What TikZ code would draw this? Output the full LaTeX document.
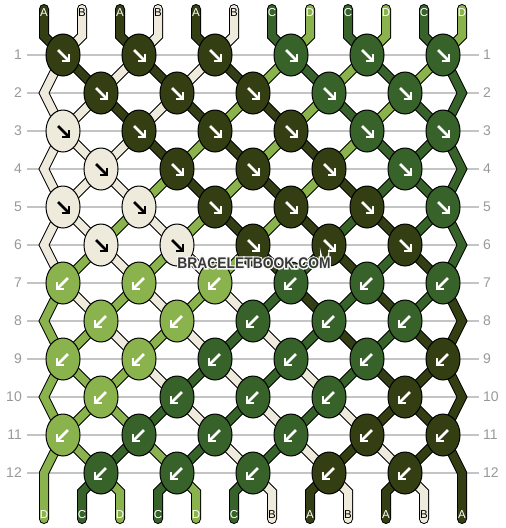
\documentclass[tikz,border=0pt]{standalone}
\usepackage{fontspec}
\setmainfont{Liberation Sans}
\newfontfamily\wmfont{Liberation Sans}[FakeStretch=0.9]
\usetikzlibrary{shapes.geometric}
\definecolor{colA}{HTML}{333F12}
\definecolor{colB}{HTML}{EEEADC}
\definecolor{colC}{HTML}{37622A}
\definecolor{colD}{HTML}{8BB34D}
\colorlet{arrA}{white}\colorlet{arrB}{black}\colorlet{arrC}{white}\colorlet{arrD}{white}
\definecolor{gridgray}{HTML}{C4C4C4}
\definecolor{numgray}{HTML}{999999}
\definecolor{wmgray}{HTML}{383838}
\pgfdeclarelayer{gridlayer}\pgfdeclarelayer{strandlayer}
\pgfsetlayers{gridlayer,strandlayer,main}

\newcommand\setslot[3]{%
  \ifodd#2\relax
    \pgfmathtruncatemacro\tmpj{#3/2}%
    \edef#1{K#2-\tmpj.center}%
  \else
    \ifnum#3=0\relax \edef#1{EL#2}%
    \else\ifnum#3=11\relax \edef#1{ER#2}%
    \else \pgfmathtruncatemacro\tmpj{(#3-1)/2}\edef#1{K#2-\tmpj.center}%
    \fi\fi
  \fi}

\newcommand\drawstrands[1]{%
  \foreach \c [count=\p from 0] in {A,B,A,B,A,B,C,D,C,D,C,D} {
    \setslot\sa{1}{\p}
    \draw[#1=\c] (T\p) -- (TB\p) -- (\sa);
  }
  \foreach \r/\seq in {1/{B,A,B,A,B,A,D,C,D,C,D,C}, 2/{B,B,A,B,A,D,A,D,C,D,C,C}, 3/{B,B,B,A,D,A,D,A,D,C,C,C}, 4/{B,B,B,D,A,D,A,D,A,C,C,C}, 5/{B,B,D,B,D,A,D,A,C,A,C,C}, 6/{B,D,B,D,B,D,A,C,A,C,A,C}, 7/{D,B,D,B,D,B,C,A,C,A,C,A}, 8/{D,D,B,D,B,C,B,C,A,C,A,A}, 9/{D,D,D,B,C,B,C,B,C,A,A,A}, 10/{D,D,D,C,B,C,B,C,B,A,A,A}, 11/{D,D,C,D,C,B,C,B,A,B,A,A}} {
    \pgfmathtruncatemacro\rn{\r+1}
    \pgfmathtruncatemacro\rnn{\r+2}
    \foreach \c [count=\p from 0] in \seq {
      \setslot\sa{\r}{\p}\setslot\sb{\rn}{\p}
      \ifnum\p=0 \def\isedge{1}\else\ifnum\p=11 \def\isedge{1}\else\def\isedge{0}\fi\fi
      \ifnum\isedge=1
        \ifodd\r
          \ifnum\r<11 \setslot\sc{\rnn}{\p}\else\edef\sc{B\p}\fi
          \draw[#1=\c] (\sa) -- (\sb) -- (\sc);
        \fi
      \else
        \draw[#1=\c] (\sa) -- (\sb);
      \fi
    }
  }
  \foreach \c [count=\p from 0] in {D,C,D,C,D,C,B,A,B,A,B,A} {
    \ifnum\p>0 \ifnum\p<11
      \setslot\sa{12}{\p}
      \draw[#1=\c] (\sa) -- (BB\p) -- (B\p);
    \fi\fi
  }%
}

\tikzset{
  knot/.style={ellipse, draw=black, line width=1pt, fill=#1, minimum width=34pt, minimum height=42pt, inner sep=0pt, outer sep=0pt},
  arrowline/.style={draw=#1, line width=2.6pt, line join=miter, line cap=butt},
  strand0/.style={draw=black, line width=10pt, line cap=round, line join=miter},
  strand1/.style={draw=col#1, line width=8pt, line cap=round, line join=miter},
  rowline/.style={draw=gridgray, line width=1.2pt},
  rownum/.style={text=numgray, font=\fontsize{14}{14}\selectfont, inner sep=0pt},
  endlabel/.style={text=arr#1, font=\fontsize{11.5}{11.5}\selectfont, inner sep=0pt},
  wm/.style={font=\wmfont\bfseries\fontsize{15.4}{15.4}\selectfont, inner sep=0pt},
}
\newcommand\haloed[1]{\rlap{\special{pdf:literal direct 1 Tr 2.6 w 0.97 0.97 0.97 RG}#1\special{pdf:literal direct 0 Tr}}#1}

\begin{document}
\begin{tikzpicture}[x=1pt,y=-1pt]
\useasboundingbox (0,0) rectangle (506,528);
\begin{pgfonlayer}{gridlayer}
  \fill[white] (0,0) rectangle (506,528);
\end{pgfonlayer}

% knots
\foreach \r/\ks in {1/{A,A,A,C,C,C},2/{A,A,A,C,C},3/{B,A,A,A,C,C},4/{B,A,A,A,C},5/{B,B,A,A,A,C},6/{B,B,A,A,A},7/{D,D,D,C,C,C},8/{D,D,C,C,C},9/{D,D,C,C,C,A},10/{D,C,C,C,A},11/{D,C,C,C,A,A},12/{C,C,C,A,A}} {
  \pgfmathsetmacro\yy{55+38*(\r-1)}
  \ifodd\r \def\xo{63}\else\def\xo{101}\fi
  \foreach \c [count=\j from 0] in \ks {
    \pgfmathsetmacro\xx{\xo+76*\j}
    \node[knot=col\c] (K\r-\j) at (\xx,\yy) {};
    \ifnum\r<7
      \draw[arrowline=arr\c] (K\r-\j.center) ++(-5,-5) -- ++(10,10);
      \draw[arrowline=arr\c] (K\r-\j.center) ++(6,-1) -- ++(0,7) -- ++(-7,0);
    \else
      \draw[arrowline=arr\c] (K\r-\j.center) ++(5,-5) -- ++(-10,10);
      \draw[arrowline=arr\c] (K\r-\j.center) ++(-6,-1) -- ++(0,7) -- ++(7,0);
    \fi
  }
}

% row numbers and row lines
\foreach \r in {1,...,12} {
  \pgfmathsetmacro\yy{55+38*(\r-1)}
  \node[rownum, anchor=east] (numL\r) at (22,\yy) {\r};
  \node[rownum, anchor=west] (numR\r) at (483,\yy) {\r};
  \begin{pgfonlayer}{gridlayer}
    \draw[rowline] ([xshift=5pt]numL\r.east) -- ([xshift=-4pt]numR\r.west);
  \end{pgfonlayer}
}

% edge turning points
\foreach \r in {2,4,...,12} {
  \pgfmathsetmacro\yy{55+38*(\r-1)}
  \coordinate (EL\r) at (44,\yy);
  \coordinate (ER\r) at (462,\yy);
}

% string ends and labels
\foreach \c [count=\p from 0] in {A,B,A,B,A,B,C,D,C,D,C,D} {
  \pgfmathsetmacro\xx{44+38*\p}
  \coordinate (T\p) at (\xx,9);
  \coordinate (TB\p) at (\xx,36);
  \node[endlabel=\c] (TL\p) at (\xx,12.5) {\c};
}
\foreach \c [count=\p from 0] in {D,C,D,C,D,C,B,A,B,A,B,A} {
  \pgfmathsetmacro\xx{44+38*\p}
  \coordinate (BB\p) at (\xx,492);
  \coordinate (B\p) at (\xx,519);
  \node[endlabel=\c] (BL\p) at (\xx,515) {\c};
}

% strings
\begin{pgfonlayer}{strandlayer}
  \drawstrands{strand0}
  \drawstrands{strand1}
\end{pgfonlayer}

% watermark
\node[wm, text=wmgray] (wm) at (254,263) {\haloed{BRACELETBOOK.COM}};
\end{tikzpicture}
\end{document}
